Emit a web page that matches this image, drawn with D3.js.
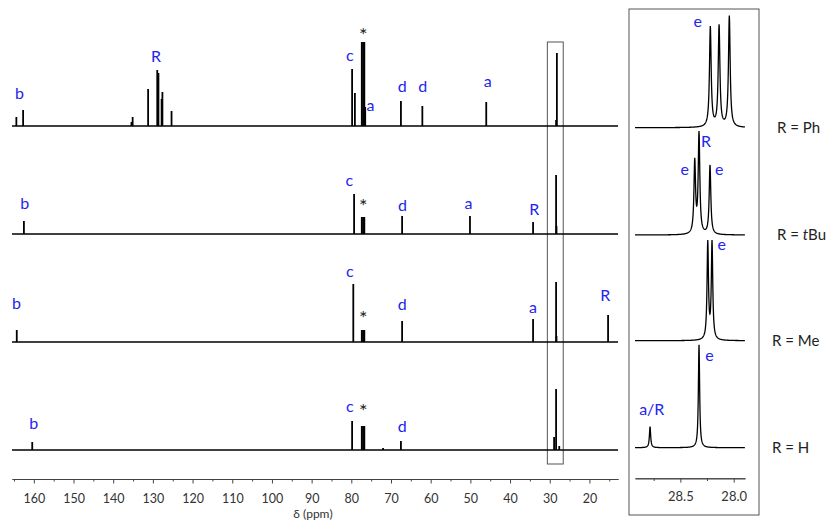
<!DOCTYPE html>
<html>
<head>
<meta charset="utf-8">
<script src="https://cdn.jsdelivr.net/npm/d3@7"></script>
<style>
  body { margin: 0; background: #fff; }
  text { font-family: Lato, "Open Sans", sans-serif; }
</style>
</head>
<body>
<svg id="chart" width="828" height="521"></svg>
<script>
// ---- data (ppm, intensity) ----
const compounds = ["Ph", "tBu", "Me", "H"];

const phPeaks = [[164.4, 9], [162.7, 16], [135.4, 4], [135.1, 9], [131.2, 37], [128.9, 56], [128.6, 53],
  [127.8, 27], [127.6, 34], [125.3, 15], [79.8, 57], [79.1, 33], [77.36, 84], [77.04, 84], [76.72, 84],
  [76.5, 19], [67.5, 25], [62.1, 20], [46.0, 24], [28.4, 6], [28.2, 73]];
const tBuPeaks = [[162.5, 13], [79.3, 40], [77.36, 17], [77.04, 17], [76.72, 17], [67.2, 18], [50.1, 18],
  [34.2, 12], [28.4, 59], [28.3, 8]];
const mePeaks = [[164.3, 12], [79.5, 58], [77.36, 12], [77.04, 12], [76.72, 12], [67.2, 21], [34.2, 23],
  [28.4, 60], [28.3, 6], [15.3, 27]];
const hPeaks = [[160.4, 8], [79.8, 29], [77.36, 24], [77.04, 24], [76.72, 24], [72.0, 2], [67.5, 9],
  [28.9, 13], [28.4, 61], [27.6, 4]];

// peak labels: text, ppm, height above baseline
const phLabels = [["b", 163.6, 27], ["R", 129.2, 64], ["c", 80.4, 65], ["*", 77.0, 84], ["a", 75.2, 15],
  ["d", 67.2, 34], ["d", 62.0, 34], ["a", 45.6, 39]];
const tBuLabels = [["b", 162.3, 25], ["c", 80.5, 48], ["*", 77.0, 21], ["d", 67.1, 23], ["a", 50.5, 25], ["R", 33.9, 19]];
const meLabels = [["b", 164.4, 33], ["c", 80.4, 65], ["*", 77.0, 17], ["d", 67.2, 32], ["a", 34.2, 29], ["R", 16.0, 41]];
const hLabels = [["b", 160.0, 21], ["c", 80.4, 38], ["*", 77.0, 32], ["d", 67.2, 18]];

// expanded 28 ppm region: ppm, height
const phInset = [[28.219, 100], [28.137, 101], [28.041, 111]];
const tBuInset = [[28.365, 72], [28.325, 100], [28.222, 69]];
const meInset = [[28.243, 97], [28.203, 97]];
const hInset = [[28.784, 21], [28.325, 103]];
const insetWidths = [0.0095, 0.009, 0.008, 0.007];

const phInsetLabels = [["e", 28.337, 101]];
const tBuInsetLabels = [["e", 28.46, 60], ["R", 28.259, 88], ["e", 28.135, 60]];
const meInsetLabels = [["e", 28.112, 91]];
const hInsetLabels = [["a/R", 28.768, 33], ["e", 28.228, 87]];

const majorTicks = [160, 150, 140, 130, 120, 110, 100, 90, 80, 70, 60, 50, 40, 30, 20];
const minorTicks = [165, 155, 145, 135, 125, 115, 105, 95, 85, 75, 65, 55, 45, 35, 25, 15];
const insetMajor = [28.5, 28.0];
const insetMinor = [28.75, 28.25];
const zoomBox = [30.6, 26.6];

const mainPeaks = [phPeaks, tBuPeaks, mePeaks, hPeaks];
const mainLabels = [phLabels, tBuLabels, meLabels, hLabels];
const insetPeaks = [phInset, tBuInset, meInset, hInset];
const insetLabels = [phInsetLabels, tBuInsetLabels, meInsetLabels, hInsetLabels];

// ---- layout ----
const blue = "#2424f0";
const svg = d3.select("#chart");
const x = d3.scaleLinear().domain([165.5, 12.8]).range([12, 618]);
const xi = d3.scaleLinear().domain([28.925, 27.894]).range([635, 745]);
const mainBase = [126, 234, 342, 450];
const insetBase = [127.7, 235, 340.7, 447.7];
const labelX = [777, 777, 772, 772];

// zoom box on main spectra
svg.append("rect")
  .attr("x", x(zoomBox[0]))
  .attr("y", 42)
  .attr("width", x(zoomBox[1]) - x(zoomBox[0]))
  .attr("height", 422)
  .attr("fill", "none")
  .attr("stroke", "#555")
  .attr("stroke-width", 1);

// main spectra
mainPeaks.forEach((peaks, i) => {
  const y = d3.scaleLinear().domain([0, 100]).range([mainBase[i], mainBase[i] - 100]);
  const g = svg.append("g");

  g.append("line")
    .attr("x1", x.range()[0]).attr("x2", x.range()[1])
    .attr("y1", y(0)).attr("y2", y(0))
    .attr("stroke", "#000")
    .attr("stroke-width", 1.5);

  g.selectAll("line.peak")
    .data(peaks)
    .join("line")
    .attr("class", "peak")
    .attr("x1", d => x(d[0])).attr("x2", d => x(d[0]))
    .attr("y1", y(0)).attr("y2", d => y(d[1]))
    .attr("stroke", "#000")
    .attr("stroke-width", 1.8);

  g.selectAll("text")
    .data(mainLabels[i])
    .join("text")
    .attr("x", d => x(d[1]))
    .attr("y", d => y(d[2]))
    .attr("text-anchor", "middle")
    .attr("font-size", d => d[0] === "*" ? 20 : 16)
    .attr("fill", d => d[0] === "*" ? "#222" : blue)
    .text(d => d[0]);
});

// main axis
const axisY = 479;
const mainAxis = svg.append("g")
  .attr("transform", `translate(0,${axisY})`)
  .call(d3.axisBottom(x).tickValues(majorTicks).tickSize(4.5).tickSizeOuter(0).tickPadding(11));
svg.append("g")
  .attr("transform", `translate(0,${axisY})`)
  .call(d3.axisBottom(x).tickValues(minorTicks).tickSize(2.5).tickSizeOuter(0).tickFormat(""));
svg.selectAll(".domain, .tick line").attr("stroke", "#444");
mainAxis.selectAll("text").attr("font-size", 12.5).attr("fill", "#333").attr("font-family", "Lato, sans-serif");

svg.append("text")
  .attr("x", 313)
  .attr("y", 518)
  .attr("text-anchor", "middle")
  .attr("font-size", 12)
  .attr("fill", "#333")
  .text("δ (ppm)");

// right panel
svg.append("rect")
  .attr("x", 629).attr("y", 9)
  .attr("width", 130).attr("height", 506)
  .attr("fill", "none")
  .attr("stroke", "#555")
  .attr("stroke-width", 1);

const grid = d3.range(xi.domain()[0], xi.domain()[1], -0.002);
const line = d3.line();

insetPeaks.forEach((peaks, i) => {
  const y = d3.scaleLinear().domain([0, 100]).range([insetBase[i], insetBase[i] - 100]);
  const gam = insetWidths[i];
  const pts = grid.concat(peaks.map(p => p[0])).sort((a, b) => b - a);
  const trace = pts.map(p => [xi(p), y(d3.sum(peaks, q => q[1] * gam * gam / (gam * gam + (p - q[0]) ** 2)))]);

  svg.append("path")
    .attr("d", line(trace))
    .attr("fill", "none")
    .attr("stroke", "#000")
    .attr("stroke-width", 1.3);

  svg.append("g").selectAll("text")
    .data(insetLabels[i])
    .join("text")
    .attr("x", d => xi(d[1]))
    .attr("y", d => y(d[2]))
    .attr("text-anchor", "middle")
    .attr("font-size", 16)
    .attr("fill", blue)
    .text(d => d[0]);

  const lab = svg.append("text")
    .attr("x", labelX[i])
    .attr("y", insetBase[i] + 5)
    .attr("font-size", 15)
    .attr("fill", "#222");
  if (compounds[i] === "tBu") {
    lab.append("tspan").text("R = ");
    lab.append("tspan").attr("font-style", "italic").text("t");
    lab.append("tspan").text("Bu");
  } else {
    lab.text("R = " + compounds[i]);
  }
});

// inset axis
const insetY = 478.3;
const insetAxis = svg.append("g")
  .attr("transform", `translate(0,${insetY})`)
  .call(d3.axisBottom(xi).tickValues(insetMajor).tickSize(4.3).tickSizeOuter(0).tickPadding(9).tickFormat(d3.format(".1f")));
svg.append("g")
  .attr("transform", `translate(0,${insetY})`)
  .call(d3.axisBottom(xi).tickValues(insetMinor).tickSize(2.7).tickSizeOuter(0).tickFormat(""));
svg.selectAll(".domain, .tick line").attr("stroke", "#444");
insetAxis.selectAll("text").attr("font-size", 13).attr("fill", "#333").attr("font-family", "Lato, sans-serif");
</script>
</body>
</html>
